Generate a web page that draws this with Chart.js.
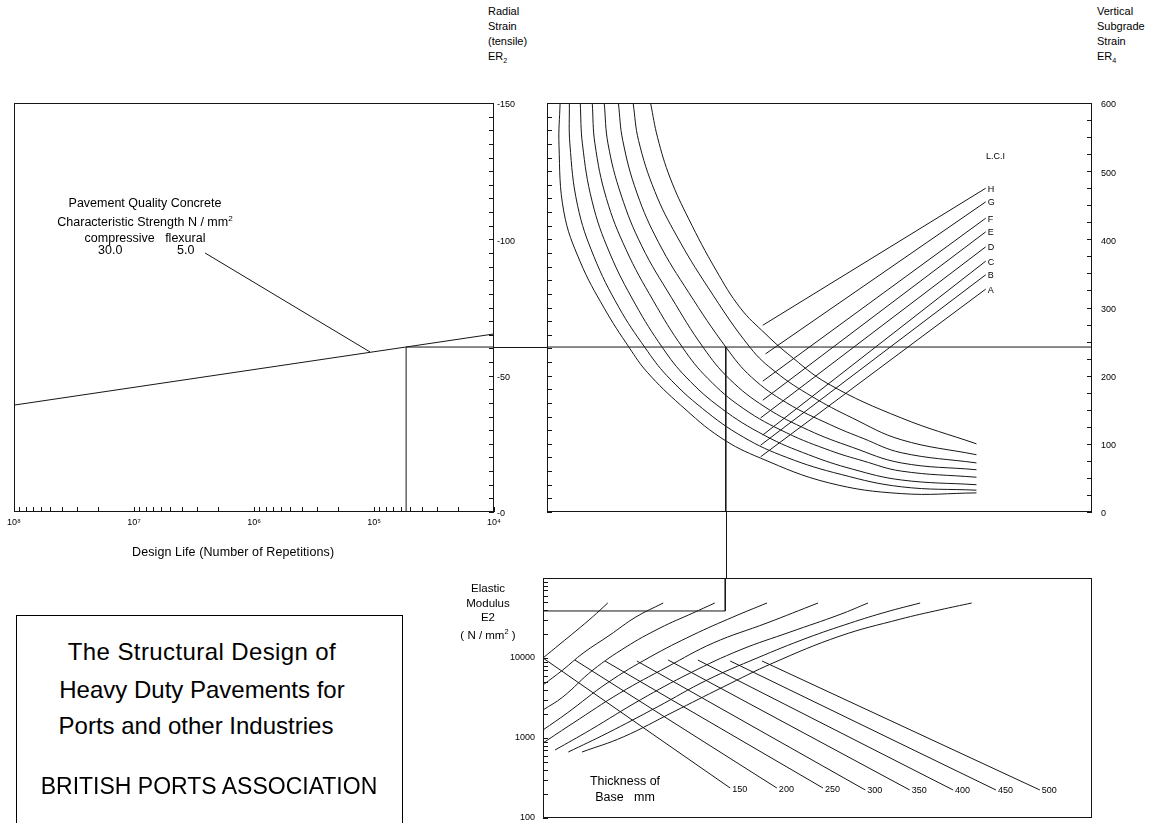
<!DOCTYPE html>
<html>
<head>
<meta charset="utf-8">
<script src="https://cdn.jsdelivr.net/npm/chart.js@4.4.1/dist/chart.umd.min.js"></script>
<style>
  body { margin: 0; width: 1163px; height: 823px; background: #fff; position: relative; overflow: hidden;
         font-family: "Liberation Sans", Arial, sans-serif; color: #000; }
  .panel { position: absolute; }
  .txt { position: absolute; white-space: nowrap; }
  .stack { position: absolute; text-align: center; white-space: nowrap; }
  sub, sup { font-size: 65%; }
  .titlebox { position: absolute; border: 1px solid #000; box-sizing: border-box; }
  .tline { position: absolute; left: 0; width: 370px; text-align: center; font-size: 24px; line-height: 26px; }
</style>
</head>
<body>

<div class="panel" style="left:0;top:95px;width:547px;height:490px"><canvas id="lifeChart"></canvas></div>
<div class="panel" style="left:494px;top:95px;width:669px;height:483px"><canvas id="subgradeChart"></canvas></div>
<div class="panel" style="left:494px;top:570px;width:669px;height:253px"><canvas id="modulusChart"></canvas></div>

<div class="txt" style="left:488px;top:4px;font-size:11px;line-height:15px">Radial<br>Strain<br>(tensile)<br>ER<sub>2</sub></div>
<div class="txt" style="left:1097px;top:4px;font-size:11px;line-height:15px">Vertical<br>Subgrade<br>Strain<br>ER<sub>4</sub></div>

<div class="stack" style="left:40px;top:195px;width:210px;font-size:12.5px;line-height:16px">
  Pavement Quality Concrete<br>
  Characteristic Strength N / mm<sup>2</sup><br>
  compressive&nbsp;&nbsp;&nbsp;flexural
</div>
<div class="txt" style="left:98px;top:243px;font-size:12.5px">30.0</div>
<div class="txt" style="left:177px;top:243px;font-size:12.5px">5.0</div>
<div class="txt" style="left:132px;top:545px;font-size:12.5px;letter-spacing:0.1px">Design Life (Number of Repetitions)</div>

<div class="txt" style="left:986px;top:151px;font-size:9px">L.C.I</div>

<div class="stack" style="left:448px;top:581px;width:80px;font-size:11.5px;line-height:14.5px">Elastic<br>Modulus<br>E2<br>( N / mm<sup>2</sup> )</div>
<div class="stack" style="left:575px;top:773px;width:100px;font-size:12.5px;line-height:16px">Thickness of<br>Base&nbsp;&nbsp;&nbsp;mm</div>

<div class="titlebox" style="left:16px;top:615px;width:387px;height:240px">
  <div class="tline" style="top:23px;letter-spacing:0.4px">The Structural Design of</div>
  <div class="tline" style="top:61px">Heavy Duty Pavements for</div>
  <div class="tline" style="top:97px;left:-6px">Ports and other Industries</div>
  <div class="tline" style="top:157px;left:7px;font-size:23px">BRITISH PORTS ASSOCIATION</div>
</div>

<script>
// ---- left panel: design life against radial strain ER2
const lifeDecades = [1e4, 1e5, 1e6, 1e7, 1e8];
const fatigueLine = [[1e8, 39.2], [1e4, 65.3]];
const concretePointer = [[2.56e6, 95], [1.08e5, 58.7]];
const designLife = 5.4e4;
const designStrain = 60.5;
const strainLabels = [0, 50, 100, 150];

// ---- right panel: subgrade strain ER4 curves and L.C.I lines
const subgradeCurves = [
  [[2.4, 600], [2.2, 538], [3.1, 440], [6.1, 367], [10.5, 299], [15.1, 241], [18.4, 205], [24.5, 157], [31.9, 109], [39.2, 79], [51.6, 43], [65.0, 27], [78.8, 28]],
  [[4.1, 600], [4.2, 540], [5.6, 450], [8.6, 375], [13.2, 300], [18.0, 241], [22.0, 200], [28.5, 152], [36.0, 110], [44.0, 80], [54.0, 55], [65.0, 37], [78.8, 32]],
  [[6.1, 600], [6.5, 540], [8.3, 455], [11.5, 380], [16.2, 305], [21.2, 241], [25.5, 198], [32.0, 152], [40.0, 112], [48.0, 84], [56.0, 63], [65.0, 47], [78.8, 40]],
  [[8.3, 600], [8.8, 540], [10.9, 460], [14.5, 385], [19.5, 310], [24.9, 241], [29.5, 196], [36.0, 152], [44.0, 116], [52.0, 90], [58.0, 75], [65.0, 60], [78.8, 51]],
  [[10.5, 600], [11.2, 540], [13.6, 465], [17.4, 390], [22.8, 315], [28.7, 241], [33.5, 195], [40.0, 154], [48.0, 120], [56.0, 95], [65.0, 72], [78.8, 62]],
  [[13.1, 600], [13.9, 545], [16.5, 468], [20.5, 395], [26.0, 322], [32.9, 241], [37.5, 198], [44.0, 160], [52.0, 128], [58.0, 108], [65.0, 87], [78.8, 72]],
  [[15.8, 600], [16.8, 545], [19.8, 470], [23.8, 405], [29.5, 330], [37.3, 241], [42.0, 205], [48.5, 170], [56.0, 138], [65.0, 106], [78.8, 84]],
  [[19.0, 600], [20.3, 549], [22.6, 490], [26.0, 430], [31.0, 355], [35.5, 299], [40.0, 262], [44.2, 232], [51.6, 188], [65.0, 138], [78.8, 100]]
];
const lciNames = ['A', 'B', 'C', 'D', 'E', 'F', 'G', 'H'];
const lciFrom = [[39.2, 81], [39.2, 98], [39.6, 113], [39.2, 138], [39.6, 164], [39.6, 192], [40.1, 232], [39.6, 274]];
const lciTo = [[80.5, 327], [80.5, 348], [80.5, 368], [80.5, 389], [80.5, 411], [80.5, 431], [80.5, 455], [80.5, 475]];
const subgradePathX = 32.8;
const er4Labels = [0, 100, 200, 300, 400, 500, 600];

// ---- bottom panel: elastic modulus E2 against base thickness
const modulusCurves = [
  [[0, 10000], [3.1, 14960], [6.0, 21750], [9.0, 32500], [11.8, 48700]],
  [[0, 4600], [3.6, 7080], [7.3, 11500], [12.2, 19400], [16.9, 32500], [21.9, 48700]],
  [[0, 2240], [3.6, 3250], [9.1, 7080], [15.1, 13700], [21.3, 23700], [27.3, 36500], [31.3, 48700]],
  [[0, 1260], [4.4, 2050], [11.7, 4870], [19.5, 10300], [27.3, 19400], [34.6, 32500], [40.8, 48700]],
  [[0, 866], [5.5, 1540], [14.0, 3650], [22.6, 7720], [31.0, 15400], [40.8, 27400], [50.1, 48700]],
  [[2.2, 708], [8.6, 1260], [17.7, 2990], [26.8, 6490], [35.9, 12600], [45.0, 21100], [54.1, 35000], [59.2, 48700]],
  [[4.6, 668], [11.7, 1150], [20.8, 2440], [29.9, 5310], [39.0, 10000], [48.1, 17800], [56.0, 27400], [62.5, 37600], [68.7, 48700]],
  [[7.1, 668], [14.6, 1030], [23.7, 2110], [32.8, 4340], [41.9, 8660], [54.1, 18800], [65.0, 30500], [72.3, 40000], [78.1, 48700]]
];
const thicknessNames = ['150', '200', '250', '300', '350', '400', '450', '500'];
const thicknessFrom = [[0, 10000], [5.8, 9440], [11.3, 9170], [17.1, 9170], [22.8, 9440], [28.2, 9440], [34.1, 9170], [39.9, 9170]];
const thicknessTo = [[34.1, 237], [42.6, 237], [51.0, 237], [58.7, 224], [66.8, 224], [74.7, 224], [82.5, 224], [90.5, 224]];
const modulusPathX = 33.2;
const designModulus = 38700;
const e2Labels = [100, 1000, 10000];

const INK = '#161616';
const SUP = { 4: '\u2074', 5: '\u2075', 6: '\u2076', 7: '\u2077', 8: '\u2078' };

Chart.defaults.font.family = '"Liberation Sans", Arial, sans-serif';
Chart.defaults.font.size = 9;
Chart.defaults.color = '#000';
Chart.defaults.animation = false;
Chart.defaults.plugins.legend.display = false;
Chart.defaults.plugins.tooltip.enabled = false;

function logTicks(lo, hi) {
  const out = [];
  for (let d = lo; d < hi; d *= 10) {
    for (let m = 1; m < 10; m++) out.push(m * d);
  }
  out.push(hi);
  return out;
}
function stepTicks(lo, hi, step) {
  const out = [];
  for (let v = lo; v <= hi; v += step) out.push(v);
  return out;
}
function line(points, extra) {
  return Object.assign({
    data: points.map(([x, y]) => ({ x, y })),
    showLine: true, pointRadius: 0, borderColor: INK, borderWidth: 1, tension: 0
  }, extra);
}
// fixed axis size, and no extra room for the end labels
function fixSize(prop, size) {
  return s => {
    s[prop] = size;
    s.paddingTop = 0; s.paddingBottom = 0; s.paddingLeft = 0; s.paddingRight = 0;
  };
}

// box round the plot area plus the short inward ticks
const framePlugin = {
  id: 'frame',
  afterDatasetsDraw(chart, args, opts) {
    const { ctx, chartArea: a } = chart;
    ctx.save();
    ctx.strokeStyle = INK;
    ctx.lineWidth = 1;
    ctx.strokeRect(Math.round(a.left) + 0.5, Math.round(a.top) + 0.5, Math.round(a.width) - 1, Math.round(a.height) - 1);
    (opts.ticks || []).forEach(t => {
      const scale = chart.scales[t.scale];
      ctx.beginPath();
      t.values.forEach(v => {
        const p = Math.round(scale.getPixelForValue(v)) + 0.5;
        if (t.side === 'bottom') { ctx.moveTo(p, a.bottom); ctx.lineTo(p, a.bottom - 5); }
        if (t.side === 'left') { ctx.moveTo(a.left, p); ctx.lineTo(a.left + 5, p); }
        if (t.side === 'right') { ctx.moveTo(a.right, p); ctx.lineTo(a.right - 5, p); }
      });
      ctx.stroke();
    });
    ctx.restore();
  }
};

// text at the end of a line (L.C.I letters, base thickness)
const endLabelPlugin = {
  id: 'endLabels',
  afterDatasetsDraw(chart) {
    const { ctx } = chart;
    ctx.save();
    ctx.font = '9px "Liberation Sans", Arial, sans-serif';
    ctx.fillStyle = '#000';
    ctx.textBaseline = 'middle';
    chart.data.datasets.forEach((ds, i) => {
      if (!ds.endLabel) return;
      const pts = chart.getDatasetMeta(i).data;
      const p = pts[pts.length - 1];
      ctx.fillText(ds.endLabel, p.x + 2, p.y + 1);
    });
    ctx.restore();
  }
};

// the design path leaving the right panel to the left and downwards
const bridgePlugin = {
  id: 'bridge',
  afterDatasetsDraw(chart, args, opts) {
    const { ctx, chartArea: a } = chart;
    const y = Math.round(chart.scales.yS.getPixelForValue(opts.strain)) + 0.5;
    const x = Math.round(chart.scales.x.getPixelForValue(opts.x)) + 0.5;
    ctx.save();
    ctx.strokeStyle = INK;
    ctx.lineWidth = 1;
    ctx.beginPath();
    ctx.moveTo(0, y); ctx.lineTo(a.left, y);
    ctx.moveTo(x, a.bottom); ctx.lineTo(x, chart.height);
    ctx.stroke();
    ctx.restore();
  }
};

Chart.register(framePlugin, endLabelPlugin);

const plainAxis = { grid: { display: false, drawTicks: false }, border: { display: false } };

// left chart
new Chart(document.getElementById('lifeChart'), {
  type: 'scatter',
  data: {
    datasets: [
      line(fatigueLine),
      line(concretePointer),
      line([[designLife, 0], [designLife, designStrain], [lifeDecades[0], designStrain]])
    ]
  },
  options: {
    responsive: true, maintainAspectRatio: false,
    layout: { padding: { left: 14, top: 8, right: 0, bottom: 0 } },
    scales: {
      x: {
        ...plainAxis, type: 'logarithmic', reverse: true, min: 1e4, max: 1e8,
        afterFit: fixSize('height', 73),
        afterBuildTicks: s => { s.ticks = logTicks(1e4, 1e8).map(v => ({ value: v })); },
        ticks: {
          autoSkip: false, maxRotation: 0, padding: 5, font: { size: 9 },
          callback: v => lifeDecades.includes(v) ? '10' + SUP[Math.round(Math.log10(v))] : ''
        }
      },
      y: {
        ...plainAxis, position: 'right', min: 0, max: 150,
        afterFit: fixSize('width', 53),
        ticks: { stepSize: 5, autoSkip: false, padding: 3, labelOffset: 2, callback: v => strainLabels.includes(v) ? '-' + v : '' }
      }
    },
    plugins: {
      frame: { ticks: [
        { scale: 'x', side: 'bottom', values: logTicks(1e4, 1e8) },
        { scale: 'y', side: 'right', values: stepTicks(0, 150, 5) }
      ] }
    }
  }
});

// right chart
const subgradeSets = subgradeCurves.map(c => line(c, { tension: 0.4 }));
lciNames.forEach((name, i) => subgradeSets.push(line([lciFrom[i], lciTo[i]], { endLabel: name })));
subgradeSets.push(line([[0, designStrain], [100, designStrain]], { yAxisID: 'yS' }));
subgradeSets.push(line([[subgradePathX, designStrain], [subgradePathX, 0]], { yAxisID: 'yS' }));

new Chart(document.getElementById('subgradeChart'), {
  type: 'scatter',
  data: { datasets: subgradeSets },
  options: {
    responsive: true, maintainAspectRatio: false,
    layout: { padding: { left: 53, top: 8, right: 0, bottom: 66 } },
    scales: {
      x: { type: 'linear', min: 0, max: 100, display: false },
      y: {
        ...plainAxis, position: 'right', min: 0, max: 600,
        afterFit: fixSize('width', 71),
        ticks: { stepSize: 25, autoSkip: false, padding: 9, labelOffset: 2, callback: v => er4Labels.includes(v) ? String(v) : '' }
      },
      yS: { type: 'linear', position: 'left', min: 0, max: 150, display: false }
    },
    plugins: {
      frame: { ticks: [
        { scale: 'yS', side: 'left', values: stepTicks(0, 150, 5) },
        { scale: 'y', side: 'right', values: stepTicks(0, 600, 25) }
      ] },
      bridge: { strain: designStrain, x: subgradePathX }
    }
  },
  plugins: [bridgePlugin]
});

// bottom chart
const modulusSets = modulusCurves.map(c => line(c, { tension: 0.4 }));
thicknessNames.forEach((name, i) => modulusSets.push(line([thicknessFrom[i], thicknessTo[i]], { endLabel: name })));
modulusSets.push(line([[modulusPathX, 100000], [modulusPathX, designModulus], [0, designModulus]]));

new Chart(document.getElementById('modulusChart'), {
  type: 'scatter',
  data: { datasets: modulusSets },
  options: {
    responsive: true, maintainAspectRatio: false,
    layout: { padding: { left: 0, top: 8, right: 71, bottom: 5 } },
    scales: {
      x: { type: 'linear', min: 0, max: 100, display: false },
      y: {
        ...plainAxis, type: 'logarithmic', position: 'left', min: 100, max: 100000,
        afterFit: fixSize('width', 49),
        afterBuildTicks: s => { s.ticks = logTicks(100, 100000).map(v => ({ value: v })); },
        ticks: { autoSkip: false, padding: 8, callback: v => e2Labels.includes(v) ? String(v) : '' }
      }
    },
    plugins: {
      frame: { ticks: [
        { scale: 'y', side: 'left', values: logTicks(100, 100000) }
      ] }
    }
  }
});
</script>
</body>
</html>
